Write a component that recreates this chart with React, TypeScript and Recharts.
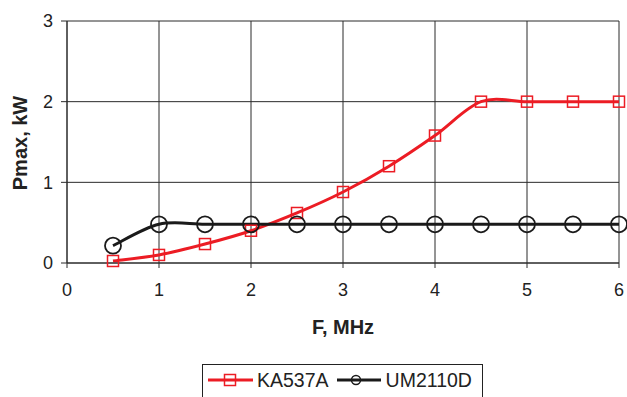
import React from 'react';
import { LineChart, Line, XAxis, YAxis, CartesianGrid, Legend } from 'recharts';

// frequency, MHz
const freq = [0.5, 1, 1.5, 2, 2.5, 3, 3.5, 4, 4.5, 5, 5.5, 6];
// Pmax, kW
const ka537a = [0.025, 0.1, 0.235, 0.4, 0.62, 0.88, 1.2, 1.58, 2.0, 2.0, 2.0, 2.0];
const um2110d = [0.215, 0.48, 0.48, 0.48, 0.48, 0.48, 0.48, 0.48, 0.48, 0.48, 0.48, 0.48];

const xTicks = [0, 1, 2, 3, 4, 5, 6];
const yTicks = [0, 1, 2, 3];

const RED = '#ec1c24';
const BLACK = '#1a1a1a';
const FONT = '"Liberation Sans", Arial, sans-serif';

const data = freq.map((f, i) => ({ f, ka537a: ka537a[i], um2110d: um2110d[i] }));

// Excel-style smoothed line (Catmull-Rom like bezier segments)
const excelCurve = (context: any) => {
    let pts: number[][] = [];
    return {
        areaStart() {},
        areaEnd() {},
        lineStart() { pts = []; },
        point(x: number, y: number) { pts.push([+x, +y]); },
        lineEnd() {
            if (!pts.length) return;
            context.moveTo(pts[0][0], pts[0][1]);
            for (let i = 0; i < pts.length - 1; i++) {
                const p0 = pts[i - 1] || pts[i];
                const p1 = pts[i];
                const p2 = pts[i + 1];
                const p3 = pts[i + 2] || p2;
                context.bezierCurveTo(
                    p1[0] + (p2[0] - p0[0]) / 6, p1[1] + (p2[1] - p0[1]) / 6,
                    p2[0] - (p3[0] - p1[0]) / 6, p2[1] - (p3[1] - p1[1]) / 6,
                    p2[0], p2[1]
                );
            }
        },
    };
};

const SquareDot = (props: any) => {
    const { cx, cy, index } = props;
    if (cx == null || cy == null) return null;
    return <rect key={`sq-${index}`} x={cx - 5.5} y={cy - 5.5} width={11} height={11} fill="none" stroke={RED} strokeWidth={1.5} />;
};

const CircleDot = (props: any) => {
    const { cx, cy, index } = props;
    if (cx == null || cy == null) return null;
    return <circle key={`c-${index}`} cx={cx} cy={cy} r={8} fill="none" stroke={BLACK} strokeWidth={1.8} />;
};

const LegendBox = () => (
    <div style={{
        border: '1px solid #222', height: 42, boxSizing: 'border-box', display: 'flex',
        alignItems: 'center', paddingLeft: 5, paddingBottom: 10,
        fontFamily: FONT, fontSize: 19.5, color: '#222', background: '#fff'
    }}>
        <svg width={45} height={14} style={{ marginRight: 4, flex: 'none' }}>
            <line x1={0} y1={7} x2={45} y2={7} stroke={RED} strokeWidth={3} />
            <rect x={16.5} y={1.5} width={11} height={11} fill="none" stroke={RED} strokeWidth={1.5} />
        </svg>
        <span style={{ marginRight: 8 }}>KA537A</span>
        <svg width={44} height={14} style={{ marginRight: 5, flex: 'none' }}>
            <line x1={0} y1={7} x2={44} y2={7} stroke={BLACK} strokeWidth={3} />
            <circle cx={19} cy={7} r={4.5} fill="none" stroke={BLACK} strokeWidth={1.5} />
        </svg>
        <span>UM2110D</span>
    </div>
);

const YTitle = () => (
    <text x={20} y={143} transform="rotate(-90, 20, 143)" textAnchor="middle" dominantBaseline="central"
        fontFamily={FONT} fontWeight="bold" fontSize={20} fill="#222">Pmax, kW</text>
);

const XTitle = () => (
    <text x={343} y={327} textAnchor="middle" dominantBaseline="central"
        fontFamily={FONT} fontWeight="bold" fontSize={20} fill="#222">F, MHz</text>
);

export default function App() {
    return (
        <div style={{ position: 'absolute', left: 0, top: 0, width: 627, height: 397, background: '#fff', overflow: 'hidden' }}>
            <LineChart width={627} height={397} data={data} margin={{ top: 21, right: 8, bottom: 104, left: 0 }}>
                <CartesianGrid stroke="#2a2a2a" strokeWidth={1} />
                <XAxis
                    dataKey="f" type="number" domain={[0, 6]} ticks={xTicks} interval={0}
                    stroke="#2a2a2a" tickSize={5} tickMargin={15}
                    tick={{ fill: '#222', fontSize: 18, fontFamily: FONT }}
                    label={{ content: () => <XTitle /> }}
                />
                <YAxis
                    type="number" domain={[0, 3]} ticks={yTicks} interval={0} width={67}
                    stroke="#2a2a2a" tickSize={6} tickMargin={8}
                    tick={{ fill: '#222', fontSize: 18, fontFamily: FONT }}
                    label={{ content: () => <YTitle /> }}
                />
                <Legend
                    layout="vertical" align="center" verticalAlign="middle"
                    wrapperStyle={{ left: 202, top: 364, width: 281, height: 42 }}
                    content={() => <LegendBox />}
                />
                <Line dataKey="ka537a" name="KA537A" type={excelCurve as any} stroke={RED} strokeWidth={3}
                    dot={SquareDot} activeDot={false} isAnimationActive={false} />
                <Line dataKey="um2110d" name="UM2110D" type={excelCurve as any} stroke={BLACK} strokeWidth={3}
                    dot={CircleDot} activeDot={false} isAnimationActive={false} />
            </LineChart>
        </div>
    );
}
